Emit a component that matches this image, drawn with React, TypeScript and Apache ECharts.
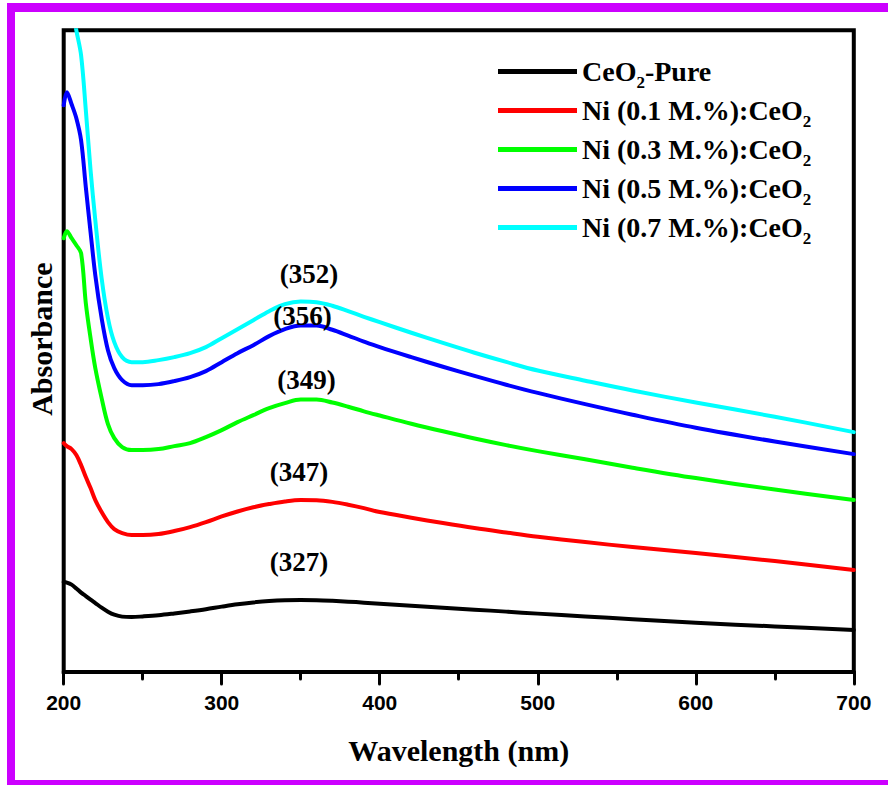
import React, { useEffect, useRef } from 'react';
import * as echarts from 'echarts';

const wavelengths = [200, 202, 205, 208, 211, 214, 217, 220, 224, 228, 232, 237, 243, 250, 260, 270, 280, 290, 300, 310, 320, 330, 340, 350, 360, 370, 380, 390, 400, 420, 440, 460, 480, 500, 530, 560, 600, 650, 700];

const seriesNames = ['CeO2-Pure', 'Ni (0.1 M.%):CeO2', 'Ni (0.3 M.%):CeO2', 'Ni (0.5 M.%):CeO2', 'Ni (0.7 M.%):CeO2'];
const seriesColors = ['#000000', '#FF0000', '#00FF00', '#0000FF', '#00FFFF'];

const absPure = [0.45, 0.447, 0.437, 0.418, 0.397, 0.38, 0.362, 0.345, 0.322, 0.302, 0.287, 0.277, 0.275, 0.278, 0.284, 0.293, 0.303, 0.314, 0.327, 0.339, 0.348, 0.355, 0.359, 0.36, 0.359, 0.356, 0.352, 0.347, 0.342, 0.332, 0.322, 0.312, 0.302, 0.292, 0.278, 0.264, 0.246, 0.228, 0.21];
const absNi01 = [1.145, 1.13, 1.115, 1.085, 1.035, 0.975, 0.92, 0.86, 0.8, 0.75, 0.715, 0.695, 0.685, 0.685, 0.69, 0.705, 0.725, 0.75, 0.778, 0.803, 0.824, 0.84, 0.853, 0.86, 0.859, 0.851, 0.837, 0.82, 0.8, 0.772, 0.745, 0.72, 0.698, 0.677, 0.65, 0.625, 0.595, 0.555, 0.51];
const absNi03 = [2.17, 2.205, 2.17, 2.135, 2.095, 1.845, 1.67, 1.52, 1.37, 1.24, 1.17, 1.125, 1.11, 1.11, 1.115, 1.13, 1.145, 1.175, 1.21, 1.25, 1.285, 1.32, 1.345, 1.363, 1.363, 1.348, 1.327, 1.304, 1.283, 1.242, 1.204, 1.168, 1.135, 1.105, 1.064, 1.022, 0.97, 0.913, 0.86];
const absNi05 = [2.835, 2.9, 2.84, 2.77, 2.66, 2.425, 2.2, 1.985, 1.77, 1.61, 1.52, 1.46, 1.435, 1.435, 1.44, 1.455, 1.475, 1.505, 1.55, 1.595, 1.635, 1.68, 1.715, 1.733, 1.733, 1.712, 1.683, 1.653, 1.625, 1.575, 1.527, 1.481, 1.437, 1.396, 1.34, 1.287, 1.222, 1.153, 1.09];
const absNi07 = [3.56, 3.47, 3.35, 3.21, 3.085, 2.81, 2.51, 2.26, 1.97, 1.77, 1.65, 1.575, 1.55, 1.55, 1.56, 1.575, 1.595, 1.625, 1.67, 1.715, 1.76, 1.805, 1.84, 1.853, 1.85, 1.832, 1.805, 1.777, 1.75, 1.697, 1.646, 1.597, 1.551, 1.508, 1.457, 1.408, 1.348, 1.277, 1.2];

const allSeries = [absPure, absNi01, absNi03, absNi05, absNi07];

// peak annotations (text and where the text sits, in data units)
const peakLabels = ['(327)', '(347)', '(349)', '(356)', '(352)'];
const peakLabelX = [348.9, 348.9, 353.7, 351.1, 355.3];
const peakLabelY = [0.55, 1.0, 1.46, 1.78, 1.99];

const xTicks = { min: 200, max: 700, interval: 100 };
const yRange = { min: 0, max: 3.21 };

const legendFormatter = (name: string) => {
  const m = name.match(/^(.*CeO)2(.*)$/);
  if (!m) return `{m|${name}}`;
  return `{m|${m[1]}}{s|2}` + (m[2] ? `{m|${m[2]}}` : '');
};

export default function App() {
  const ref = useRef<HTMLDivElement>(null);
  useEffect(() => {
    if (!ref.current) return;
    const chart = echarts.init(ref.current, null, { renderer: 'svg' });
    const serif = '"Liberation Serif", "Times New Roman", serif';
    const option: any = {
      animation: false,
      backgroundColor: '#ffffff',
      grid: {
        left: 63.7,
        right: 34.2,
        top: 30.3,
        bottom: 113,
        show: true,
        borderColor: '#000',
        borderWidth: 4,
        backgroundColor: 'transparent',
      },
      legend: {
        orient: 'vertical',
        left: 498,
        top: 52,
        padding: 0,
        itemGap: 0,
        itemWidth: 79,
        itemHeight: 5,
        icon: 'rect',
        data: seriesNames,
        formatter: legendFormatter,
        textStyle: {
          color: '#000',
          rich: {
            m: { fontFamily: serif, fontWeight: 'bold', fontSize: 28, lineHeight: 36, color: '#000' },
            s: { fontFamily: serif, fontWeight: 'bold', fontSize: 17, lineHeight: 14, padding: [22, 0, 0, 0], color: '#000' },
          },
        },
      },
      xAxis: {
        type: 'value',
        min: xTicks.min,
        max: xTicks.max,
        interval: xTicks.interval,
        name: 'Wavelength (nm)',
        nameLocation: 'middle',
        nameGap: 78,
        nameTextStyle: { fontFamily: serif, fontWeight: 'bold', fontSize: 30, color: '#000', verticalAlign: 'middle' },
        axisLine: { show: true, lineStyle: { color: '#000', width: 4 } },
        axisTick: { show: true, inside: false, length: 12, lineStyle: { color: '#000', width: 3, cap: 'round' } },
        minorTick: { show: true, splitNumber: 2, length: 7, lineStyle: { color: '#000', width: 3, cap: 'round' } },
        splitLine: { show: false },
        minorSplitLine: { show: false },
        axisLabel: {
          fontFamily: '"Liberation Sans", Arial, sans-serif',
          fontWeight: 'bold',
          fontSize: 21,
          color: '#000',
          margin: 20,
        },
      },
      yAxis: {
        type: 'value',
        min: yRange.min,
        max: yRange.max,
        name: 'Absorbance',
        nameLocation: 'middle',
        nameGap: 22,
        nameTextStyle: {
          fontFamily: serif,
          fontWeight: 'bold',
          fontSize: 30,
          color: '#000',
          verticalAlign: 'middle',
          padding: [0, 0, 0, 24],
        },
        axisLine: { show: false },
        axisTick: { show: false },
        axisLabel: { show: false },
        splitLine: { show: false },
      },
      series: allSeries.map((vals, i) => ({
        name: seriesNames[i],
        type: 'line',
        data: wavelengths.map((w, j) => [w, vals[j]]),
        symbol: 'none',
        smooth: 0.35,
        clip: true,
        color: seriesColors[i],
        itemStyle: { color: seriesColors[i] },
        lineStyle: { color: seriesColors[i], width: 4, join: 'round', cap: 'round' },
        markPoint: {
          symbol: 'circle',
          symbolSize: 0,
          silent: true,
          label: {
            show: true,
            position: 'inside',
            formatter: '{b}',
            fontFamily: serif,
            fontWeight: 'bold',
            fontSize: 27,
            color: '#000',
          },
          data: [{ name: peakLabels[i], coord: [peakLabelX[i], peakLabelY[i]] }],
        },
      })),
      graphic: [
        { type: 'rect', left: 7, top: 3, shape: { x: 0, y: 0, width: 8, height: 782 }, style: { fill: '#CC00FF' }, silent: true },
        { type: 'rect', left: 7, top: 3, shape: { x: 0, y: 0, width: 881, height: 9 }, style: { fill: '#CC00FF' }, silent: true },
        { type: 'rect', left: 7, top: 780, shape: { x: 0, y: 0, width: 881, height: 5 }, style: { fill: '#CC00FF' }, silent: true },
      ],
    };
    chart.setOption(option);
    return () => chart.dispose();
  }, []);
  return (
    <div
      ref={ref}
      style={{ position: 'absolute', left: 0, top: 0, width: 888, height: 785, background: '#fff' }}
    />
  );
}
